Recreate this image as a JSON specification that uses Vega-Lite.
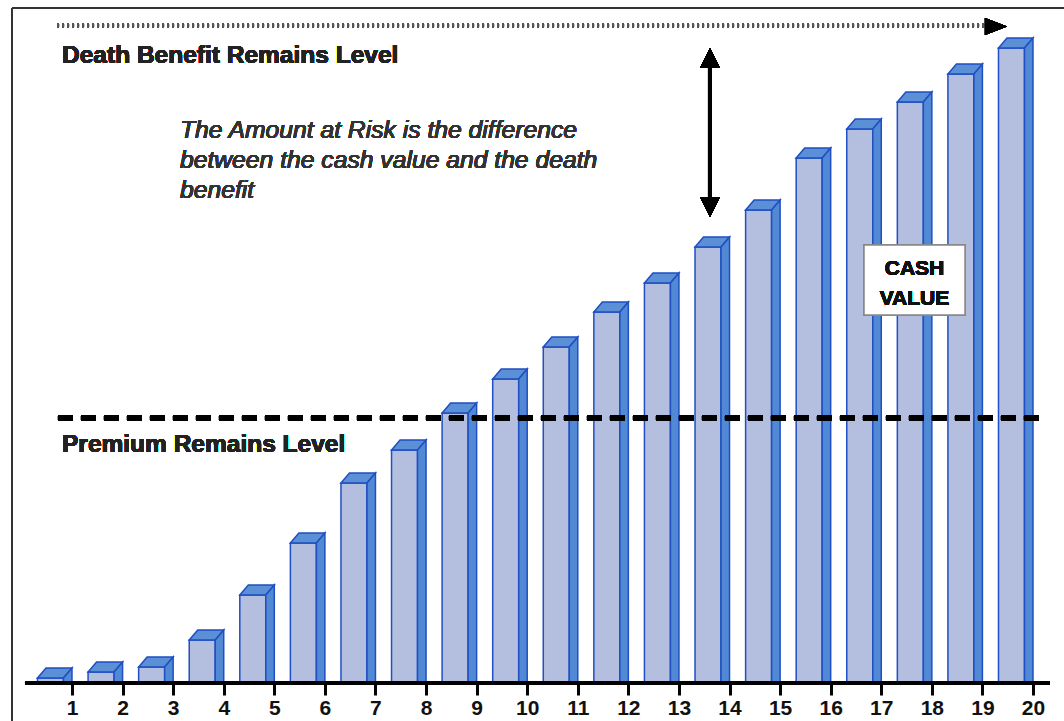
{
  "$schema": "https://vega.github.io/schema/vega-lite/v6.json",
  "width": 1052,
  "height": 675,
  "padding": {"left": 12, "top": 8, "right": 0, "bottom": 38},
  "autosize": {"type": "none"},
  "background": "white",
  "config": {
    "view": {"stroke": null},
    "font": "Liberation Sans",
    "axisY": {"domain": false, "ticks": false, "labels": false, "grid": false}
  },
  "data": {
    "values": [
      {"year": 1, "cash": 5},
      {"year": 2, "cash": 11},
      {"year": 3, "cash": 16},
      {"year": 4, "cash": 43},
      {"year": 5, "cash": 88},
      {"year": 6, "cash": 140},
      {"year": 7, "cash": 200},
      {"year": 8, "cash": 233},
      {"year": 9, "cash": 270},
      {"year": 10, "cash": 304},
      {"year": 11, "cash": 336},
      {"year": 12, "cash": 371},
      {"year": 13, "cash": 400},
      {"year": 14, "cash": 436},
      {"year": 15, "cash": 473},
      {"year": 16, "cash": 525},
      {"year": 17, "cash": 554},
      {"year": 18, "cash": 581},
      {"year": 19, "cash": 609},
      {"year": 20, "cash": 635}
    ]
  },
  "layer": [
    {
      "mark": {"type": "bar", "orient": "vertical", "width": 26, "xOffset": -21.5, "fill": "#b4bfe0", "stroke": "#1f4fc2", "strokeWidth": 1.5},
      "encoding": {
        "x": {"field": "year", "type": "quantitative",
          "scale": {"domain": [-0.186, 20.613], "nice": false, "zero": false, "padding": 0},
          "axis": {"title": null, "values": [1,2,3,4,5,6,7,8,9,10,11,12,13,14,15,16,17,18,19,20], "domain": false, "grid": false, "ticks": true, "tickColor": "black", "tickWidth": 3, "tickSize": 12, "labelFont": "Liberation Sans", "labelFontSize": 21, "labelFontWeight": "bold", "labelColor": "#111", "labelPadding": 2, "labelFlush": false, "labelOverlap": false}},
        "y": {"field": "cash", "type": "quantitative", "scale": {"domain": [0, 675], "nice": false}, "axis": null}
      }
    },
    {
      "mark": {"type": "point", "shape": "M-34.5,0L-8.5,0L0,-10L-26,-10Z", "size": 4, "filled": true, "fill": "#5b8fd6", "stroke": "#1f4fc2", "strokeWidth": 1.5, "opacity": 1},
      "encoding": {
        "x": {"field": "year", "type": "quantitative"},
        "y": {"field": "cash", "type": "quantitative"}
      }
    },
    {
      "mark": {"type": "point", "shape": "M-8.5,0L0,-10L0,800L-8.5,800Z", "size": 4, "filled": true, "fill": "#5189d4", "stroke": "#1f4fc2", "strokeWidth": 1.5, "opacity": 1, "clip": true},
      "encoding": {
        "x": {"field": "year", "type": "quantitative"},
        "y": {"field": "cash", "type": "quantitative"}
      }
    },
    {
      "mark": {"type": "rule", "color": "black", "strokeWidth": 3},
      "encoding": {"x": {"datum": 0.071}, "x2": {"datum": 20.336}, "y": {"datum": 0}}
    },
    {
      "mark": {"type": "rule", "color": "#333333", "strokeWidth": 2},
      "encoding": {"x": {"datum": -0.186}, "y": {"datum": 675}, "y2": {"datum": -60}}
    },
    {
      "mark": {"type": "rule", "color": "#333333", "strokeWidth": 2},
      "encoding": {"x": {"datum": -0.186}, "x2": {"datum": 21.5}, "y": {"datum": 675}}
    },
    {
      "mark": {"type": "rule", "color": "black", "strokeWidth": 5, "strokeDash": [15, 8]},
      "encoding": {"x": {"datum": 0.723}, "x2": {"datum": 20.139}, "y": {"datum": 265}}
    },
    {
      "mark": {"type": "rule", "color": "#555555", "strokeWidth": 4, "strokeDash": [2, 3]},
      "encoding": {"x": {"datum": 0.704}, "x2": {"datum": 19.05}, "y": {"datum": 657.5}}
    },
    {
      "mark": {"type": "point", "shape": "M0,-8.5L22,0L0,8.5Z", "size": 4, "filled": true, "fill": "black", "stroke": null, "opacity": 1},
      "encoding": {"x": {"datum": 19.05}, "y": {"datum": 656.5}}
    },
    {
      "mark": {"type": "rule", "color": "black", "strokeWidth": 4},
      "encoding": {"x": {"datum": 13.614}, "y": {"datum": 623}, "y2": {"datum": 478}}
    },
    {
      "mark": {"type": "point", "shape": "M0,0L10,20L-10,20Z", "size": 4, "filled": true, "fill": "black", "stroke": null, "opacity": 1},
      "encoding": {"x": {"datum": 13.614}, "y": {"datum": 635}}
    },
    {
      "mark": {"type": "point", "shape": "M0,0L10,-20L-10,-20Z", "size": 4, "filled": true, "fill": "black", "stroke": null, "opacity": 1},
      "encoding": {"x": {"datum": 13.614}, "y": {"datum": 466}}
    },
    {
      "mark": {"type": "text", "text": "Death Benefit Remains Level", "font": "Liberation Sans", "fontSize": 24.5, "fontWeight": "bold", "color": "#222222", "align": "left", "baseline": "alphabetic"},
      "encoding": {"x": {"datum": 0.803}, "y": {"datum": 620}}
    },
    {
      "mark": {"type": "text", "text": "Premium Remains Level", "font": "Liberation Sans", "fontSize": 24.5, "fontWeight": "bold", "color": "#222222", "align": "left", "baseline": "alphabetic"},
      "encoding": {"x": {"datum": 0.803}, "y": {"datum": 231}}
    },
    {
      "mark": {"type": "text", "text": ["The Amount at Risk is the difference", "between the cash value and the death", "benefit"], "font": "Liberation Sans", "fontSize": 24.7, "fontStyle": "italic", "color": "#333333", "align": "left", "baseline": "alphabetic", "lineHeight": 30},
      "encoding": {"x": {"datum": 3.135}, "y": {"datum": 545}}
    },
    {
      "mark": {"type": "rect", "fill": "white", "stroke": "#888888", "strokeWidth": 1.5},
      "encoding": {"x": {"datum": 16.659}, "x2": {"datum": 18.656}, "y": {"datum": 438}, "y2": {"datum": 368}}
    },
    {
      "mark": {"type": "text", "text": ["CASH", "VALUE"], "font": "Liberation Sans", "fontSize": 21, "fontWeight": "bold", "color": "#111111", "align": "center", "baseline": "alphabetic", "lineHeight": 30},
      "encoding": {"x": {"datum": 17.657}, "y": {"datum": 408}}
    }
  ]
}
